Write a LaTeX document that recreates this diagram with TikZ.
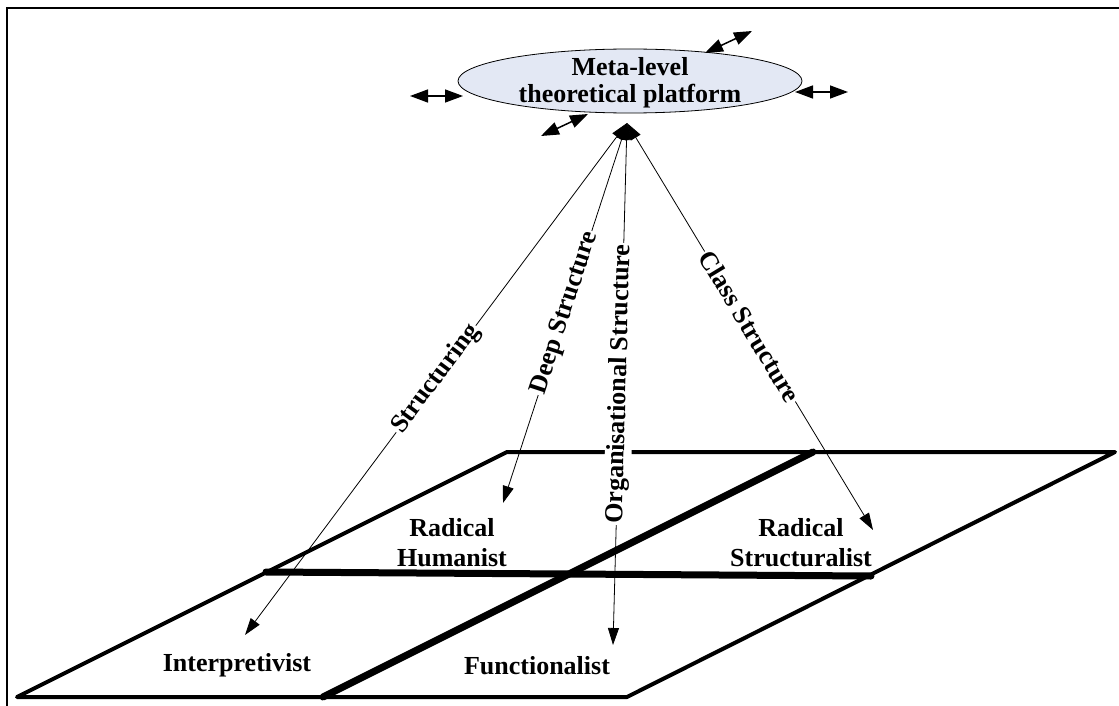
\documentclass[tikz,border=0pt]{standalone}
\usepackage{fontspec}
\setmainfont{Liberation Serif}
\usepackage{tikz}
\usetikzlibrary{
  arrows.meta, positioning, shapes.geometric
}
\definecolor{colPlatform}{HTML}{E3E8F4}
\tikzset{
  quadtext/.style={
    font=\fontsize{26}{30}\selectfont\bfseries,
    align=center, inner sep=0pt
  },
  platform/.style={
    draw, ellipse, fill=colPlatform, line width=0.8pt,
    minimum width=344pt, minimum height=64pt, inner sep=0pt
  },
  linklabel/.style={
    font=\fontsize{26}{30}\selectfont\bfseries,
    fill=white, inner sep=1.5pt, sloped, pos=0.5
  },
  linkarr/.style={
    {Triangle[length=17pt,width=11pt]}-{Triangle[length=17pt,width=11pt]},
    line width=0.8pt
  },
  swaparr/.style={
    {Triangle[length=18pt,width=13pt]}-{Triangle[length=18pt,width=13pt]},
    line width=1.5pt
  },
  planeedge/.style={line width=4pt, line join=round, line cap=round},
  axisline/.style={line width=7pt, line cap=round}
}

\begin{document}
\begin{tikzpicture}[x=1pt, y=-1pt]
  \useasboundingbox (0,0) rectangle (1119,706);
  %% frame (top and left only)
  \draw[line width=2.5pt] (7,706) -- (7,8) -- (1119,8);

  %% meta-level platform
  \node[platform] (platform) at (630,81) {};
  \node[quadtext, font=\fontsize{26}{27}\selectfont\bfseries]
    (platformtext) at ([yshift=-2pt]platform.center) {Meta-level\\theoretical platform};

  %% free ends of the small exchange arrows
  \coordinate (wA) at (410,96);   \coordinate (wB) at (463,96);
  \coordinate (eA) at (795,92);   \coordinate (eB) at (848,92);
  \coordinate (neA) at (705,53);  \coordinate (neB) at (752,31);
  \coordinate (swA) at (541,136); \coordinate (swB) at (588,114);
  \draw[swaparr] (wA) -- (wB);
  \draw[swaparr] (eA) -- (eB);
  \draw[swaparr] (neA) -- (neB);
  \draw[swaparr] (swA) -- (swB);

  %% the paradigm plane
  \coordinate (pBL) at (17,697);
  \coordinate (pBR) at (627,697);
  \coordinate (pTR) at (1115,452);
  \coordinate (pTL) at (507,452);
  \draw[planeedge] (pBL) -- (pBR) -- (pTR) -- (pTL) -- cycle;
  \coordinate (hL) at (266,572);
  \coordinate (hR) at (871,576);
  \coordinate (dB) at (323,697);
  \coordinate (dT) at (813,452);
  \draw[axisline] (hL) -- (hR);
  \draw[axisline] (dB) -- (dT);

  %% quadrant names
  \node[quadtext] (interp) at (237,665) {Interpretivist};
  \node[quadtext] (funct)  at (537,666) {Functionalist};
  \node[quadtext] (radhum) at (452,543) {Radical\\Humanist};
  \node[quadtext] (radstr) at (801,543) {Radical\\Structuralist};

  %% links to the platform
  \coordinate (apex)  at (627,123);
  \coordinate (tInt)  at (245,635);
  \coordinate (tHum)  at (503,503);
  \coordinate (tFun)  at (613,645);
  \coordinate (tStr)  at (873,530);
  \draw[linkarr] (tInt) -- node[linklabel] {Structuring} (apex);
  \draw[linkarr] (tHum) -- node[linklabel] {Deep Structure} (apex);
  \draw[linkarr] (tFun) -- node[linklabel] {Organisational Structure} (apex);
  \draw[linkarr] (tStr) -- node[linklabel] {Class Structure} (apex);
\end{tikzpicture}
\end{document}
